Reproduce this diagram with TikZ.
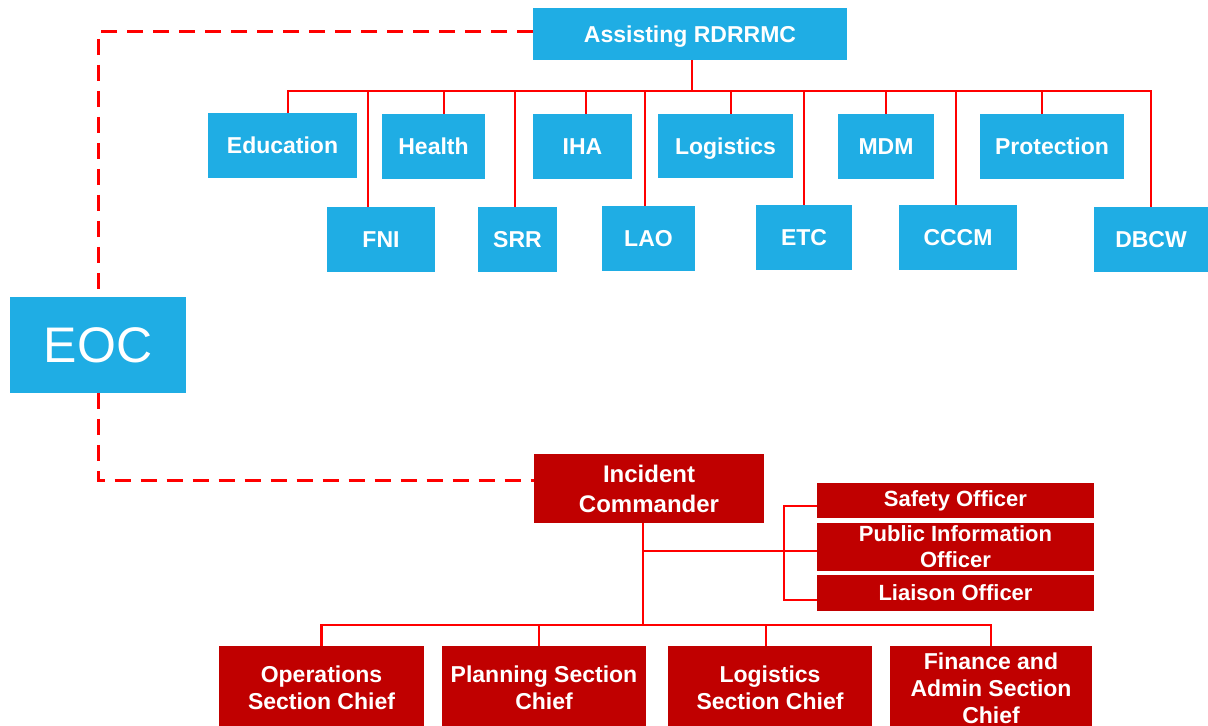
\documentclass[tikz,border=0pt]{standalone}
\usepackage{fontspec}
\setmainfont{Liberation Sans}
\definecolor{boxblue}{RGB}{31,173,228}
\definecolor{boxred}{RGB}{192,0,0}
\definecolor{linkred}{RGB}{255,0,0}
\tikzset{
	bluebox/.style={fill=boxblue, text=white, inner sep=0pt, outer sep=0pt,
		font=\fontsize{11.5}{14}\selectfont\bfseries, text height=8.5pt, text depth=0pt},
	redbox/.style={fill=boxred, text=white, inner sep=0pt, outer sep=0pt, align=center,
		font=\fontsize{11.5}{13.5}\selectfont\bfseries},
	link/.style={draw=linkred, line width=1.45pt},
	dashlink/.style={draw=linkred, line width=1.5pt, dash pattern=on 8pt off 5pt},
}
\begin{document}
\begin{tikzpicture}[x=0.5pt, y=-0.5pt]
		\useasboundingbox (0,0) rectangle (1208,726);
		\clip (0,0) rectangle (1208,726);
		% assisting RDRRMC and its clusters
		\node[bluebox, minimum width=157pt, minimum height=26pt](rdrrmc) at (690,34){Assisting RDRRMC};
		\node[bluebox, minimum width=74.5pt, minimum height=32.5pt](edu) at (282.5,145.5){Education};
		\node[bluebox, minimum width=54pt, minimum height=32.5pt](fni) at (381,239.5){FNI};
		\node[bluebox, minimum width=51.5pt, minimum height=32.5pt](health) at (433.5,146.5){Health};
		\node[bluebox, minimum width=39.5pt, minimum height=32.5pt](srr) at (517.5,239.5){SRR};
		\node[bluebox, minimum width=49.5pt, minimum height=32.5pt](iha) at (582.5,146.5){IHA};
		\node[bluebox, minimum width=46.5pt, minimum height=32.5pt](lao) at (648.5,238.5){LAO};
		\node[bluebox, minimum width=67.5pt, minimum height=32pt](logi) at (725.5,146){Logistics};
		\node[bluebox, minimum width=48pt, minimum height=32.5pt](etc) at (804,237.5){ETC};
		\node[bluebox, minimum width=48pt, minimum height=32.5pt](mdm) at (886,146.5){MDM};
		\node[bluebox, minimum width=59pt, minimum height=32.5pt](cccm) at (958,237.5){CCCM};
		\node[bluebox, minimum width=72pt, minimum height=32.5pt](prot) at (1052,146.5){Protection};
		\node[bluebox, minimum width=57pt, minimum height=32.5pt](dbcw) at (1151,239.5){DBCW};
		\coordinate(tbus) at (692,91);
		\draw[link](rdrrmc.south -| tbus) -- (tbus);
		\draw[link]([xshift=2.75pt]edu.north) |- (tbus);
		\draw[link]([xshift=-6.5pt]fni.north) |- (tbus);
		\draw[link]([xshift=5.25pt]health.north) |- (tbus);
		\draw[link]([xshift=-1.25pt]srr.north) |- (tbus);
		\draw[link]([xshift=1.75pt]iha.north) |- (tbus);
		\draw[link]([xshift=-1.75pt]lao.north) |- (tbus);
		\draw[link]([xshift=2.75pt]logi.north) |- (tbus);
		\draw[link](etc.north) |- (tbus);
		\draw[link](mdm.north) |- (tbus);
		\draw[link]([xshift=-1pt]cccm.north) |- (tbus);
		\draw[link]([xshift=-5pt]prot.north) |- (tbus);
		\draw[link](dbcw.north) |- (tbus);
		% EOC
		\node[bluebox, minimum width=88pt, minimum height=48pt, font=\fontsize{25}{30}\selectfont, text height=18pt](eoc) at (98,345){EOC};
		% incident command
		\node[redbox, minimum width=115pt, minimum height=34.5pt, font=\fontsize{12}{15}\selectfont\bfseries](ic) at (649,488.5){Incident\\Commander};
		\node[redbox, minimum width=138.5pt, minimum height=17.5pt, font=\fontsize{11}{13}\selectfont\bfseries](safety) at (955.5,500.5){Safety Officer};
		\node[redbox, minimum width=138.5pt, minimum height=24pt, font=\fontsize{11}{13}\selectfont\bfseries](pio) at (955.5,547){Public Information\\Officer};
		\node[redbox, minimum width=138.5pt, minimum height=18pt, font=\fontsize{11}{13}\selectfont\bfseries](liaison) at (955.5,593){Liaison Officer};
		\node[redbox, minimum width=102.5pt, minimum height=42pt](ops) at (321.5,688){Operations\\Section Chief};
		\node[redbox, minimum width=102pt, minimum height=42pt](plan) at (544,688){Planning Section\\Chief};
		\node[redbox, minimum width=102pt, minimum height=42pt](logsc) at (770,688){Logistics\\Section Chief};
		\node[redbox, minimum width=101pt, minimum height=42pt](fin) at (991,688){Finance and\\Admin Section\\Chief};
		\coordinate(bbus) at (643,625);
		\coordinate(obus) at (784,551);
		\draw[link](ic.south -| bbus) -- (bbus);
		\draw[link](ops.north) |- (bbus);
		\draw[link]([xshift=-2.5pt]plan.north) |- (bbus);
		\draw[link]([xshift=-2pt]logsc.north) |- (bbus);
		\draw[link](fin.north) |- (bbus);
		\draw[link]([yshift=-2pt]pio.west) -- ([yshift=-2pt]pio.west -| bbus);
		\draw[link]([yshift=-2.75pt]safety.west) -| (obus) |- ([yshift=-3.5pt]liaison.west);
		% dashed links to EOC
		\draw[dashlink]([yshift=1pt]rdrrmc.west) -| (eoc.north);
		\draw[dashlink](eoc.south) |- ([yshift=4pt]ic.west);
	\end{tikzpicture}
\end{document}
